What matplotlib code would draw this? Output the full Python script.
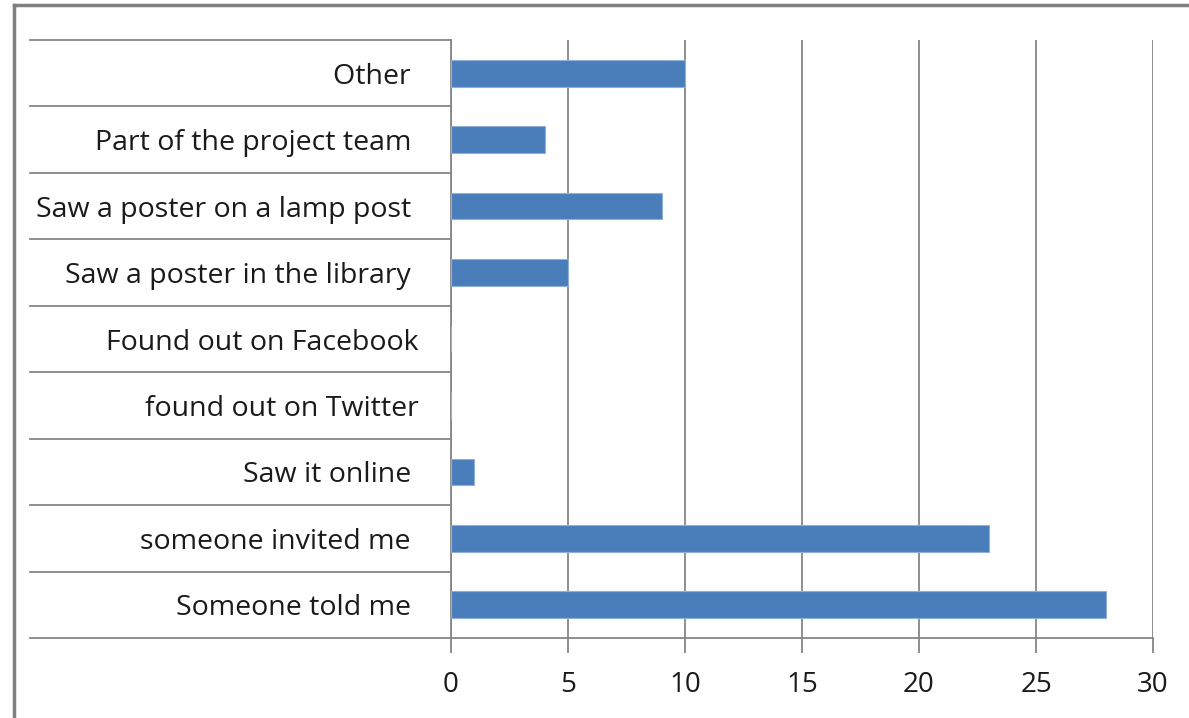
import matplotlib.pyplot as plt
from matplotlib.lines import Line2D
import matplotlib.transforms as mtransforms

# ----------------------------
# Data
# ----------------------------

categories = [
    "Someone told me ",
    "someone invited me ",
    "Saw it online ",
    "found out on Twitter",
    "Found out on Facebook",
    "Saw a poster in the library ",
    "Saw a poster on a lamp post ",
    "Part of the project team ",
    "Other ",
]
counts = [28, 23, 1, 0, 0, 5, 9, 4, 10]
x_ticks = [0, 5, 10, 15, 20, 25, 30]

grid_col = "#868686"
bar_col = "#4a7ebb"

W, H = 1189, 718
fig = plt.figure(figsize=(W / 100, H / 100), dpi=100)
plt.rcParams["font.family"] = ["Open Sans", "DejaVu Sans"]

# axes placed in pixels: x 451..1153, y 40..638
ax = fig.add_axes([451 / W, 1 - 638 / H, (1153 - 451) / W, (638 - 40) / H])

y = list(range(len(categories)))
ax.barh(y, counts, height=0.4, color=bar_col, edgecolor="#8eb0d8", linewidth=0.8, zorder=3)

ax.set_xlim(0, 30)
ax.set_ylim(-0.5, len(categories) - 0.5)
ax.set_xticks(x_ticks)
ax.set_xticklabels([str(t) for t in x_ticks], fontsize=20, color="#1a1a1a")
ax.set_yticks(y)
ax.set_yticklabels(categories, fontsize=20.5, color="#1a1a1a")

ax.tick_params(axis="x", length=11, width=1.3, color=grid_col, pad=13, direction="out")
ax.tick_params(axis="y", length=0, pad=23.5)

ax.xaxis.grid(True, color=grid_col, linewidth=1.3, zorder=0)
for side in ["top", "right"]:
    ax.spines[side].set_visible(False)
ax.spines["bottom"].set_color(grid_col)
ax.spines["bottom"].set_linewidth(1.3)
ax.spines["left"].set_color(grid_col)
ax.spines["left"].set_linewidth(1.3)

# category separator lines to the left of the plot area
trans = mtransforms.blended_transform_factory(ax.transAxes, ax.transData)
left_x = (30 - 451) / (1153 - 451)
for i in range(len(categories) + 1):
    yy = i - 0.5
    ax.add_line(Line2D([left_x, 0], [yy, yy], transform=trans, color=grid_col,
                       linewidth=1.3, clip_on=False))

# outer chart border (top and left edges visible)
fig.add_artist(Line2D([14 / W, 1], [1 - 5 / H, 1 - 5 / H], transform=fig.transFigure,
                      color="#808080", linewidth=2.5))
fig.add_artist(Line2D([14 / W, 14 / W], [0, 1 - 5 / H], transform=fig.transFigure,
                      color="#808080", linewidth=2.5))

fig.savefig("out.png", dpi=100)
